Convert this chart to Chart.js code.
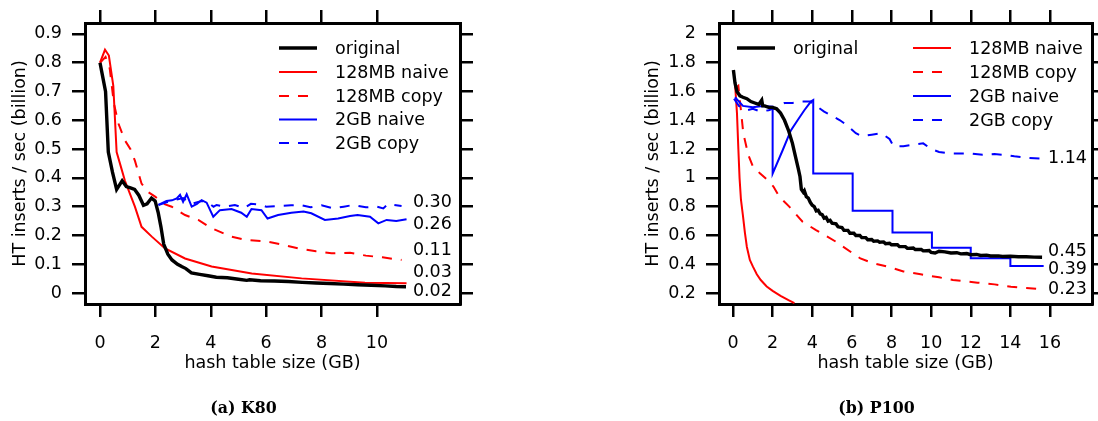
<!DOCTYPE html>
<html>
<head>
<meta charset="utf-8">
<script src="https://cdn.jsdelivr.net/npm/chart.js@4.4.1/dist/chart.umd.min.js"></script>
<style>
  html, body { margin: 0; padding: 0; background: #fff; }
  #wrap { position: relative; width: 1098px; height: 421px; overflow: hidden; }
  canvas { position: absolute; top: 0; }
  .cap { position: absolute; top: 398px; font-family: "DejaVu Serif", serif; font-weight: bold; font-size: 15.8px; color: #000; transform: translateX(-50%); white-space: nowrap; }
</style>
</head>
<body>
<div id="wrap">
  <canvas id="k80" width="549" height="421" style="left:0"></canvas>
  <canvas id="p100" width="549" height="421" style="left:549px"></canvas>
  <div class="cap" style="left:243.5px">(a) K80</div>
  <div class="cap" style="left:876.5px">(b) P100</div>
</div>
<script>
// ---------------- Data: K80 ----------------
const k80OrigX = [0,0.1,0.2,0.3,0.45,0.6,0.7,0.8,0.95,1.1,1.25,1.4,1.57,1.7,1.86,1.99,2.1,2.2,2.3,2.45,2.6,2.8,2.95,3.1,3.3,3.6,3.9,4.2,4.6,5.0,5.3,5.4,5.8,6.3,6.8,7.3,7.8,8.3,8.8,9.3,9.8,10.3,10.7,11.05];
const k80OrigY = [0.80,0.75,0.70,0.49,0.42,0.36,0.375,0.39,0.37,0.365,0.36,0.34,0.305,0.31,0.33,0.32,0.28,0.23,0.17,0.135,0.115,0.10,0.092,0.085,0.07,0.065,0.06,0.055,0.053,0.048,0.044,0.046,0.043,0.042,0.04,0.037,0.035,0.033,0.031,0.029,0.027,0.025,0.023,0.022];
const k80NaiveX = [0,0.18,0.32,0.48,0.6,0.75,0.9,1.1,1.26,1.5,1.87,2.35,3.07,4.03,5.48,7.28,9.57,11.07];
const k80NaiveY = [0.80,0.845,0.825,0.72,0.49,0.44,0.39,0.34,0.30,0.23,0.196,0.155,0.12,0.092,0.068,0.051,0.036,0.034];
const k80CopyX = [0,0.1,0.2,0.35,0.5,0.66,0.9,1.1,1.26,1.5,1.75,1.99,2.3,2.59,3.07,3.55,4.03,4.4,4.75,5.3,5.96,6.5,7.16,7.8,8.36,9.03,9.6,10.2,10.89];
const k80CopyY = [0.80,0.81,0.82,0.78,0.66,0.59,0.53,0.50,0.46,0.38,0.35,0.335,0.31,0.30,0.271,0.254,0.225,0.21,0.196,0.184,0.18,0.17,0.155,0.145,0.138,0.14,0.13,0.124,0.115];
const k80G2NaiveX = [2.11,2.4,2.6,2.77,2.89,3.0,3.13,3.31,3.5,3.67,3.85,4.09,4.33,4.75,5.1,5.3,5.47,5.83,6.05,6.43,6.91,7.35,7.63,8.12,8.6,9.03,9.3,9.75,10.05,10.35,10.7,11.07];
const k80G2NaiveY = [0.306,0.32,0.322,0.329,0.341,0.317,0.343,0.30,0.31,0.323,0.314,0.265,0.288,0.292,0.279,0.265,0.292,0.288,0.259,0.271,0.279,0.283,0.277,0.254,0.259,0.268,0.271,0.265,0.242,0.254,0.25,0.256];
const k80G2CopyX = [2.11,2.4,2.77,3.0,3.31,3.67,3.9,4.1,4.21,4.5,4.87,5.2,5.45,5.71,6.0,6.43,6.9,7.23,7.6,8.0,8.42,8.8,9.15,9.6,10.0,10.23,10.4,10.89];
const k80G2CopyY = [0.306,0.315,0.325,0.33,0.31,0.32,0.315,0.30,0.306,0.30,0.306,0.295,0.31,0.308,0.30,0.302,0.305,0.306,0.298,0.305,0.294,0.30,0.306,0.298,0.30,0.294,0.309,0.302];
const k80XTicks = [0,2,4,6,8,10];
const k80YTicks = [0,0.1,0.2,0.3,0.4,0.5,0.6,0.7,0.8,0.9];
const k80YTickLabels = ['0','0.1','0.2','0.3','0.4','0.5','0.6','0.7','0.8','0.9'];
const k80EndLabels = ['0.30','0.26','0.11','0.03','0.02'];
const k80EndLabelY = [0.313,0.24,0.149,0.07,0.007];

// ---------------- Data: P100 ----------------
const p100OrigX = [0.02,0.1,0.2,0.35,0.5,0.7,0.9,1.1,1.3,1.45,1.5,1.6,1.8,2.0,2.2,2.4,2.6,2.8,3.0,3.15,3.3,3.38,3.45,3.55,3.6,3.7,3.8,3.9,4.0,4.1,4.2,4.3,4.4,4.5,4.6,4.7,4.8,4.9,5.0,5.2,5.3,5.5,5.6,5.8,5.9,6.1,6.2,6.4,6.5,6.7,6.8,7.0,7.1,7.3,7.4,7.6,7.7,7.9,8.0,8.3,8.4,8.7,8.8,9.1,9.2,9.5,9.6,9.9,10.0,10.2,10.4,10.7,11.0,11.3,11.5,11.8,12.0,12.3,12.5,12.8,13.0,13.4,13.6,14.0,14.4,14.8,15.2,15.6];
const p100OrigY = [1.75,1.66,1.60,1.57,1.56,1.55,1.53,1.52,1.51,1.54,1.50,1.50,1.49,1.49,1.48,1.45,1.40,1.33,1.24,1.15,1.06,1.01,0.92,0.90,0.91,0.87,0.86,0.83,0.81,0.80,0.77,0.775,0.75,0.745,0.72,0.725,0.70,0.705,0.685,0.68,0.66,0.655,0.635,0.635,0.615,0.615,0.60,0.60,0.585,0.585,0.57,0.572,0.56,0.562,0.553,0.555,0.543,0.546,0.535,0.535,0.522,0.522,0.51,0.512,0.502,0.503,0.493,0.495,0.482,0.478,0.49,0.486,0.478,0.48,0.472,0.474,0.466,0.468,0.461,0.463,0.457,0.458,0.454,0.455,0.452,0.452,0.449,0.448];
const p100NaiveX = [0.1,0.2,0.27,0.33,0.4,0.5,0.6,0.7,0.85,1.0,1.2,1.4,1.7,2.0,2.4,2.8,3.1];
const p100NaiveY = [1.66,1.45,1.20,1.00,0.85,0.74,0.62,0.52,0.43,0.385,0.33,0.29,0.245,0.215,0.18,0.15,0.13];
const p100CopyX = [0.1,0.27,0.52,0.77,1.0,1.37,1.7,2.04,2.33,2.84,3.51,4.19,5.2,6.0,6.43,7.0,7.95,8.6,9.47,10.4,11.1,12.34,13.2,14.03,14.8,15.54];
const p100CopyY = [1.62,1.64,1.31,1.16,1.08,1.03,0.99,0.94,0.87,0.80,0.695,0.637,0.556,0.48,0.44,0.41,0.378,0.35,0.33,0.309,0.29,0.272,0.26,0.244,0.235,0.226];
const p100G2NaiveX = [0.1,0.5,1.0,1.5,2.0,2.0,2.5,2.92,3.26,3.6,3.93,4.05,4.05,6.04,6.04,8.05,8.05,10.04,10.04,12.0,12.0,14.0,14.0,15.68];
const p100G2NaiveY = [1.56,1.50,1.49,1.50,1.494,1.03,1.19,1.33,1.40,1.47,1.53,1.54,1.03,1.03,0.771,0.771,0.62,0.62,0.515,0.515,0.441,0.441,0.388,0.388];
const p100G2CopyX = [0.05,0.3,0.7,1.0,1.4,1.8,2.2,2.6,3.0,3.5,3.9,4.2,4.6,5.0,5.4,5.8,6.2,6.5,7.0,7.5,7.9,8.1,8.6,9.1,9.6,10.0,10.4,10.9,11.5,12.0,12.6,13.2,13.7,14.2,14.8,15.5];
const p100G2CopyY = [1.55,1.50,1.47,1.48,1.46,1.47,1.49,1.52,1.52,1.53,1.53,1.50,1.46,1.43,1.40,1.36,1.31,1.29,1.30,1.31,1.27,1.22,1.22,1.23,1.24,1.20,1.18,1.17,1.17,1.17,1.16,1.165,1.16,1.15,1.14,1.135];
const p100XTicks = [0,2,4,6,8,10,12,14,16];
const p100YTicks = [0.2,0.4,0.6,0.8,1,1.2,1.4,1.6,1.8,2];
const p100YTickLabels = ['0.2','0.4','0.6','0.8','1','1.2','1.4','1.6','1.8','2'];
const p100EndLabels = ['1.14','0.45','0.39','0.23'];
const p100EndLabelY = [1.1375,0.49,0.367,0.228];

const seriesNames = ['original','128MB naive','128MB copy','2GB naive','2GB copy'];
const yTitle = 'HT inserts / sec (billion)';
const xTitle = 'hash table size (GB)';

// ---------------- helpers ----------------
const FONT = '"DejaVu Sans", sans-serif';
const FS = 17.5;
const pts = (xs, ys) => xs.map((x, i) => ({x: x, y: ys[i]}));

function makeDatasets(series) {
  const styles = [
    {borderColor: '#000000', borderWidth: 3.4, borderDash: []},
    {borderColor: '#ff0000', borderWidth: 2, borderDash: []},
    {borderColor: '#ff0000', borderWidth: 2, borderDash: [10, 9]},
    {borderColor: '#0000ff', borderWidth: 2, borderDash: []},
    {borderColor: '#0000ff', borderWidth: 2, borderDash: [10, 9]}
  ];
  return series.map((s, i) => Object.assign({
    label: seriesNames[i], data: s, pointRadius: 0, tension: 0, fill: false,
    order: i === 0 ? 0 : 5 - i
  }, styles[i]));
}

const overlay = {
  id: 'overlay',
  afterDatasetsDraw(chart, args, opts) {
    const ctx = chart.ctx;
    ctx.save();
    ctx.font = FS + 'px ' + FONT;
    ctx.textBaseline = 'middle';
    ctx.textAlign = 'left';
    opts.legend.forEach(item => {
      const ds = chart.data.datasets[item.i];
      ctx.strokeStyle = ds.borderColor;
      ctx.lineWidth = ds.borderWidth;
      ctx.setLineDash(ds.borderDash || []);
      ctx.beginPath();
      ctx.moveTo(item.x, item.y);
      ctx.lineTo(item.x + 38, item.y);
      ctx.stroke();
      ctx.setLineDash([]);
      ctx.fillStyle = '#000';
      ctx.fillText(ds.label, item.x + 56, item.y + 1);
    });
    const xs = chart.scales.x, ys = chart.scales.y;
    opts.ends.labels.forEach((t, k) => {
      ctx.fillText(t, xs.getPixelForValue(opts.ends.x), ys.getPixelForValue(opts.ends.y[k]));
    });
    ctx.restore();
  }
};

function axisCommon(extra) {
  return Object.assign({
    type: 'linear',
    grid: {drawOnChartArea: false, drawTicks: true, tickLength: 13, color: '#000', lineWidth: 2.5},
    border: {display: true, color: '#000', width: 3},
  }, extra);
}

function makeChart(id, cfg) {
  const tickVals = (arr) => (axis) => { axis.ticks = arr.map(v => ({value: v})); };
  new Chart(document.getElementById(id), {
    type: 'line',
    data: {datasets: makeDatasets(cfg.series)},
    options: {
      responsive: false, animation: false, devicePixelRatio: 1,
      layout: {padding: {left: 0, right: 0, top: 0, bottom: 41}},
      plugins: {legend: {display: false}, tooltip: {enabled: false}, overlay: {legend: cfg.legend, ends: cfg.ends}},
      scales: {
        x: axisCommon({
          position: 'bottom', min: cfg.xMin, max: cfg.xMax,
          afterBuildTicks: tickVals(cfg.xTicks),
          afterFit: (s) => { s.height = 76; },
          ticks: {color: '#000', font: {family: FONT, size: FS}, padding: 16, maxRotation: 0, autoSkip: false},
          title: {display: true, text: xTitle, color: '#000', font: {family: FONT, size: FS}, padding: {top: 0, bottom: 6}}
        }),
        x2: axisCommon({
          position: 'top', min: cfg.xMin, max: cfg.xMax,
          afterBuildTicks: tickVals(cfg.xTicks),
          afterFit: (s) => { s.height = 23; },
          ticks: {display: false}
        }),
        y: axisCommon({
          position: 'left', min: cfg.yMin, max: cfg.yMax,
          afterBuildTicks: tickVals(cfg.yTicks),
          afterFit: (s) => { s.width = cfg.leftW; },
          ticks: {color: '#000', font: {family: FONT, size: FS}, padding: 10, autoSkip: false,
                  callback: (v, i) => cfg.yLabels[i]},
          title: {display: true, text: yTitle, color: '#000', font: {family: FONT, size: FS}, padding: {top: cfg.yTitlePad, bottom: 0}}
        }),
        y2: axisCommon({
          position: 'right', min: cfg.yMin, max: cfg.yMax,
          afterBuildTicks: tickVals(cfg.yTicks),
          afterFit: (s) => { s.width = cfg.rightW; },
          ticks: {display: false}
        })
      }
    },
    plugins: [overlay]
  });
}

makeChart('k80', {
  series: [pts(k80OrigX, k80OrigY), pts(k80NaiveX, k80NaiveY), pts(k80CopyX, k80CopyY), pts(k80G2NaiveX, k80G2NaiveY), pts(k80G2CopyX, k80G2CopyY)],
  xMin: -0.542, xMax: 13.0, yMin: -0.038, yMax: 0.938,
  xTicks: k80XTicks, yTicks: k80YTicks, yLabels: k80YTickLabels,
  leftW: 85, rightW: 89, yTitlePad: 10,
  legend: [{i:0,x:279,y:48},{i:1,x:279,y:72},{i:2,x:279,y:96},{i:3,x:279,y:119.5},{i:4,x:279,y:143}],
  ends: {labels: k80EndLabels, y: k80EndLabelY, x: 11.3}
});

makeChart('p100', {
  series: [pts(p100OrigX, p100OrigY), pts(p100NaiveX, p100NaiveY), pts(p100CopyX, p100CopyY), pts(p100G2NaiveX, p100G2NaiveY), pts(p100G2CopyX, p100G2CopyY)],
  xMin: -0.707, xMax: 18.12, yMin: 0.1236, yMax: 2.076,
  xTicks: p100XTicks, yTicks: p100YTicks, yLabels: p100YTickLabels,
  leftW: 170, rightW: 6, yTitlePad: 94,
  legend: [{i:0,x:188,y:48},{i:1,x:364,y:48},{i:2,x:364,y:72},{i:3,x:364,y:96},{i:4,x:364,y:120}],
  ends: {labels: p100EndLabels, y: p100EndLabelY, x: 15.9}
});
</script>
</body>
</html>
